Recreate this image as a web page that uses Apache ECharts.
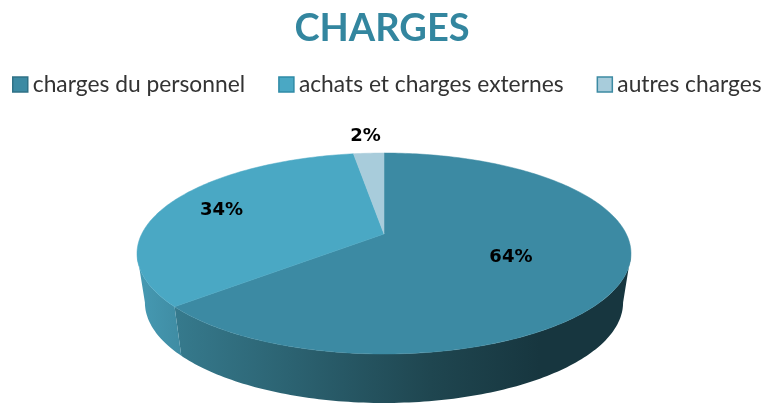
<!DOCTYPE html>
<html>
<head>
<meta charset="utf-8">
<style>
html, body { margin: 0; padding: 0; background: #fff; }
#main { width: 764px; height: 403px; }
</style>
<script src="https://cdn.jsdelivr.net/npm/echarts@6/dist/echarts.min.js"></script>
</head>
<body>
<div id="main"></div>
<script>
// values (labels show them rounded)
var categories = ['charges du personnel', 'achats et charges externes', 'autres charges'];
var values = [63.6, 34, 2.4];

var topColors = ['#3c8aa3', '#4aa8c4', '#a8ccdb'];
var legendBorders = ['#2f7186', '#2f8aa6', '#3c8aa3'];
var wallStops = [
    [[0, '#367a8d'], [0.56, '#1f4650'], [0.8, '#17363f'], [1, '#17363f']],
    [[0, '#469ab3'], [1, '#3f8ca3']],
    [[0, '#8fb4c2'], [1, '#8fb4c2']]
];
var labelReach = [0.55, 0.75, 1.26];

// perspective disc: apex of the slices sits above the ellipse centre
var cx = 384, apexY = 234, radX = 242.3, radY = 96.7, persp = 0.194;
var wallScaleX = 0.968, wallScaleY = 1.0, wallDrop = 49;

var total = values.reduce(function (a, b) { return a + b; }, 0);

function project(deg, t) {
    var rad = deg * Math.PI / 180;
    var u = Math.sin(rad) * t, v = -Math.cos(rad) * t;
    var s = 1 / (1 - persp * v);
    return [cx + radX * u * s, apexY + radY * v * s];
}

function lower(p) {
    return [cx + (p[0] - cx) * wallScaleX, apexY + (p[1] - apexY) * wallScaleY + wallDrop];
}

function arc(from, to) {
    var pts = [];
    var n = Math.max(2, Math.ceil(Math.abs(to - from)));
    for (var i = 0; i <= n; i++) {
        pts.push(project(from + (to - from) * i / n, 1));
    }
    return pts;
}

function sliceItem(index) {
    return function (params, api) {
        var before = 0;
        for (var i = 0; i < index; i++) before += values[i];
        var value = api.value(0);
        var start = before / total * 360;
        var end = (before + value) / total * 360;
        var children = [];

        // outer wall, only where it faces the viewer
        var edge = Math.acos(-persp) * 180 / Math.PI;
        var wallFrom = Math.max(start, edge);
        var wallTo = Math.min(end, 360 - edge);
        if (wallTo > wallFrom) {
            var upper = arc(wallFrom, wallTo);
            var under = upper.map(lower).reverse();
            children.push({
                type: 'polygon',
                z2: 1,
                shape: { points: upper.concat(under) },
                style: {
                    fill: new echarts.graphic.LinearGradient(
                        index === 0 ? 175 : 137, 0, index === 0 ? 631 : 181, 0,
                        wallStops[index].map(function (s) { return { offset: s[0], color: s[1] }; }),
                        true
                    )
                }
            });
        }

        // top face
        var face = [[cx, apexY]].concat(arc(start, end));
        children.push({
            type: 'polygon',
            z2: 2,
            shape: { points: face },
            style: { fill: topColors[index], stroke: topColors[index], lineWidth: 0.5 }
        });

        var pos = project((start + end) / 2, labelReach[index]);
        children.push({
            type: 'text',
            z2: 3,
            x: pos[0],
            y: pos[1],
            style: {
                text: Math.round(value) + '%',
                fill: '#000',
                font: 'bold 18px "DejaVu Sans"',
                align: 'center',
                verticalAlign: 'middle'
            }
        });
        return { type: 'group', children: children };
    };
}

var chart = echarts.init(document.getElementById('main'), null, { renderer: 'canvas' });

chart.setOption({
    backgroundColor: '#fff',
    animation: false,
    title: {
        text: 'CHARGES',
        left: 'center',
        top: 5,
        textStyle: { color: '#33869f', fontSize: 38, fontWeight: 'bold', fontFamily: 'Lato' }
    },
    legend: {
        left: 7,
        top: 68,
        width: 800,
        itemWidth: 15,
        itemHeight: 15,
        itemGap: 33,
        icon: 'rect',
        textStyle: { color: '#333', fontSize: 22.8, fontFamily: 'Lato' },
        data: categories.map(function (name, i) {
            return { name: name, itemStyle: { color: topColors[i], borderColor: legendBorders[i], borderWidth: 1.5 } };
        })
    },
    series: categories.map(function (name, i) {
        return {
            type: 'custom',
            name: name,
            coordinateSystem: 'none',
            itemStyle: { color: topColors[i] },
            renderItem: sliceItem(i),
            data: [[values[i]]]
        };
    })
});
</script>
</body>
</html>
